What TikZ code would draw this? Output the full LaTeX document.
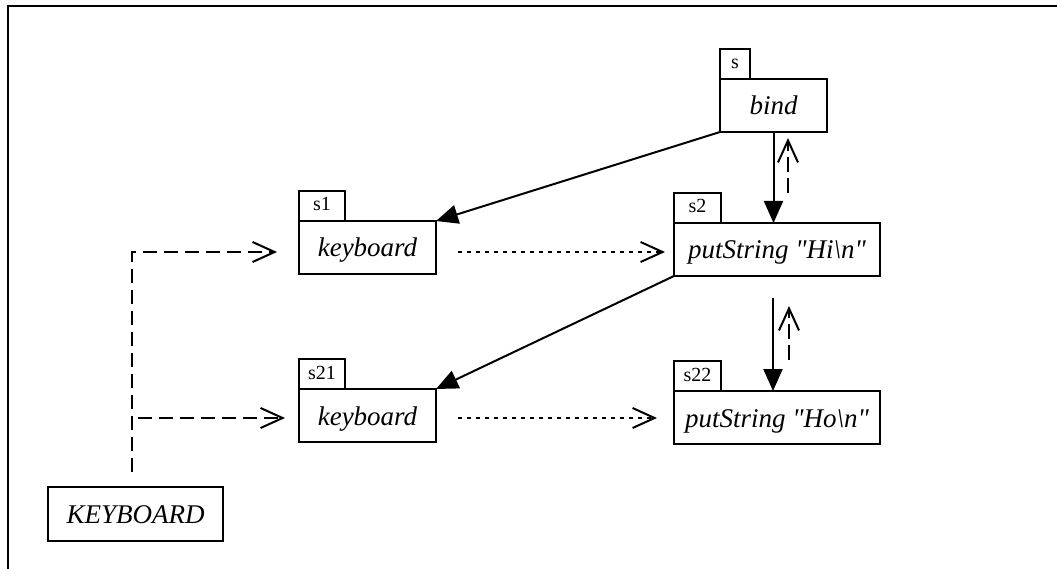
\documentclass[tikz,border=0pt]{standalone}
\usepackage{fontspec}
\setmainfont{Liberation Serif}[Ligatures=TeXOff]
\usetikzlibrary{arrows.meta,calc}
\begin{document}
\begin{tikzpicture}[x=1pt,y=-1pt,
  proc/.style={draw, line width=2pt, rectangle, inner sep=0pt, outer sep=0pt,
    minimum height=53pt, text height=19pt, text depth=0pt,
    font=\fontsize{27}{32}\selectfont\itshape},
  tab/.style={draw, line width=2pt, rectangle, inner sep=0pt, outer sep=0pt,
    minimum height=30pt, text height=10pt, text depth=0pt, anchor=south west,
    font=\fontsize{20}{24}\selectfont},
  call/.style={line width=2pt, -{Triangle[length=22pt,width=19pt]}},
  ret/.style={line width=2pt, dash pattern=on 15pt off 6pt,
    -{Straight Barb[length=22pt,width=20pt]}},
  seq/.style={line width=2pt, dash pattern=on 4pt off 5pt,
    -{Straight Barb[length=22pt,width=20pt]}},
  dep/.style={line width=2pt, dash pattern=on 14pt off 7pt,
    -{Straight Barb[length=22pt,width=20pt]}},
]
\useasboundingbox (0,0) rectangle (1057,569);
% frame
\draw[line width=2.6pt] (8,569) -- (8,6) -- (1057,6);

% process boxes with their tabs
\node[proc, minimum width=107pt] (bind) at (773.5,105.5) {bind};
\node[tab, minimum width=30pt] (tbind) at (bind.north west) {s};
\node[proc, minimum width=137pt] (s1) at (367.5,247.5) {keyboard};
\node[tab, minimum width=46pt] (ts1) at (s1.north west) {s1};
\node[proc, minimum width=206pt] (s2) at (777,249.5) {putString "Hi\textbackslash n"};
\node[tab, minimum width=47pt] (ts2) at (s2.north west) {s2};
\node[proc, minimum width=137pt] (s21) at (367.5,415.5) {keyboard};
\node[tab, minimum width=46pt] (ts21) at (s21.north west) {s21};
\node[proc, minimum width=206pt] (s22) at (777,417.5) {putString "Ho\textbackslash n"};
\node[tab, minimum width=47pt] (ts22) at (s22.north west) {s22};
\node[proc, minimum width=175pt, minimum height=54pt] (kb) at (135.5,514) {KEYBOARD};

% free ends of connectors
\coordinate (r1a) at (788,193);
\coordinate (r1b) at (788,138);
\coordinate (c2) at (773,298);
\coordinate (r2a) at (789,360);
\coordinate (r2b) at (789,306);
\coordinate (q1a) at (458,252);
\coordinate (q1b) at (665,252);
\coordinate (q2a) at (458,418);
\coordinate (q2b) at (657,418);
\coordinate (k0) at (132,472);
\coordinate (k1) at (132,252);
\coordinate (k1e) at (277,252);
\coordinate (k2) at (132,418);
\coordinate (k2e) at (285,418);

% calls
\draw[call] (bind.south west) -- (s1.north east);
\draw[call] (bind.south) -- (bind.south |- s2.north);
\draw[call] (s2.south west) -- (s21.north east);
\draw[call] (c2) -- (c2 |- s22.north);

% returns
\draw[ret] (r1a) -- (r1b);
\draw[ret] (r2a) -- (r2b);

% sequence
\draw[seq] (q1a) -- (q1b);
\draw[seq] (q2a) -- (q2b);

% keyboard dependency
\draw[dep] (k0) -- (k1) -- (k1e);
\draw[dep, dash phase=15pt] (k2) -- (k2e);
\end{tikzpicture}
\end{document}
